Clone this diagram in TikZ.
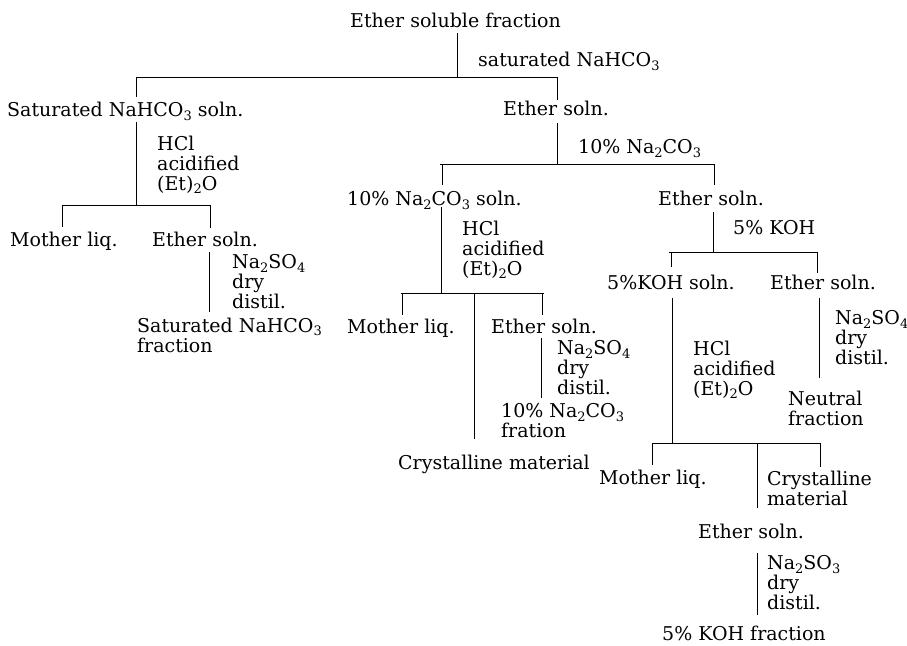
\documentclass[tikz,border=0pt]{standalone}
\usepackage{fontspec}
\setmainfont{DejaVu Serif}
\newcommand\chsub[1]{\raisebox{-3.5pt}{\fontsize{13}{13}\selectfont #1}}
\begin{document}
\begin{tikzpicture}[x=1pt,y=-1pt,
  font=\fontsize{19}{20}\selectfont,
  txt/.style={anchor=west,inner sep=0pt,text height=13.8pt,text depth=0pt},
  mtxt/.style={anchor=north west,inner sep=0pt,align=left},
  ln/.style={line width=0.9pt,black}]
\useasboundingbox (0,0) rectangle (907,645);

% ---- text ----
\node[txt] (top) at (350,21) {Ether soluble fraction};
\node[txt] (l0) at (478,60) {saturated NaHCO\chsub{3}};
\node[txt] (a) at (7,110) {Saturated NaHCO\chsub{3} soln.};
\node[txt] (b) at (503,109) {Ether soln.};
\node[mtxt] (la) at (157,135.6) {HCl\\acidified\\(Et)\chsub{2}O};
\node[txt] (a1) at (10,240) {Mother liq.};
\node[txt] (a2) at (152,240) {Ether soln.};
\node[mtxt] (la2) at (232,254.6) {Na\chsub{2}SO\chsub{4}\\dry\\distil.};
\node[mtxt] (ra2) at (137,317.6) {Saturated NaHCO\chsub{3}\\fraction};
\node[txt] (lb) at (578,147) {10\% Na\chsub{2}CO\chsub{3}};
\node[txt] (c) at (347,199) {10\% Na\chsub{2}CO\chsub{3} soln.};
\node[txt] (d) at (658,199) {Ether soln.};
\node[mtxt] (lc) at (462,220.6) {HCl\\acidified\\(Et)\chsub{2}O};
\node[txt] (c1) at (347,327) {Mother liq.};
\node[txt] (c2) at (491,327) {Ether soln.};
\node[mtxt] (lc2) at (557,340.6) {Na\chsub{2}SO\chsub{4}\\dry\\distil.};
\node[mtxt] (rc2) at (501,403.6) {10\% Na\chsub{2}CO\chsub{3}\\fration};
\node[txt] (c3) at (398,463) {Crystalline material};
\node[txt] (ld) at (733,228) {5\% KOH};
\node[txt] (e) at (607,283) {5\%KOH soln.};
\node[txt] (f) at (770,283) {Ether soln.};
\node[mtxt] (le) at (693,340.6) {HCl\\acidified\\(Et)\chsub{2}O};
\node[mtxt] (lf) at (835,310.6) {Na\chsub{2}SO\chsub{4}\\dry\\distil.};
\node[mtxt] (rf) at (788,390.6) {Neutral\\fraction};
\node[txt] (e1) at (599,478) {Mother liq.};
\node[mtxt] (e2) at (767,470.6) {Crystalline\\material};
\node[txt] (e3) at (698,532) {Ether soln.};
\node[mtxt] (le3) at (767,555.6) {Na\chsub{2}SO\chsub{3}\\dry\\distil.};
\node[txt] (re3) at (662,634) {5\% KOH fraction};

% ---- junction coordinates ----
\coordinate (t0) at (457,33);  \coordinate (j0) at (457,77);
\coordinate (h0l) at (136,77); \coordinate (h0r) at (557,77);
\coordinate (ea) at (136,97);  \coordinate (eb) at (557,100);
% left branch
\coordinate (sa) at (136,122); \coordinate (ja) at (136,205);
\coordinate (hal) at (62,205); \coordinate (har) at (211,205);
\coordinate (ea1) at (62,227); \coordinate (ea2t) at (210,205); \coordinate (ea2) at (210,228);
\coordinate (sa2) at (209,252); \coordinate (fa2) at (209,312);
% middle
\coordinate (sb) at (557,123); \coordinate (jb) at (557,164);
\coordinate (hbl) at (440,164); \coordinate (hbr) at (714,164);
\coordinate (ect) at (442,164); \coordinate (ec) at (442,185);
\coordinate (edt) at (714,164); \coordinate (ed) at (714,185);
\coordinate (sc) at (441,207); \coordinate (jc) at (441,293);
\coordinate (hcl) at (401,293); \coordinate (hcr) at (544,293);
\coordinate (ec1t) at (402,293); \coordinate (ec1) at (402,315);
\coordinate (ec3t) at (474,293); \coordinate (ec3) at (474,439);
\coordinate (ec2t) at (542,293); \coordinate (ec2) at (542,315);
\coordinate (sc2) at (541,338); \coordinate (fc2) at (541,398);
% right
\coordinate (sd) at (713,212); \coordinate (jd) at (713,252);
\coordinate (hdl) at (669,252); \coordinate (hdr) at (818,252);
\coordinate (eet) at (671,252); \coordinate (ee) at (671,267);
\coordinate (eft) at (817,252); \coordinate (ef) at (817,273);
\coordinate (sf) at (819,298); \coordinate (ff) at (819,378);
\coordinate (se) at (672,298); \coordinate (je) at (672,443);
\coordinate (hel) at (652,443); \coordinate (her) at (820,443);
\coordinate (ee1t) at (652,443); \coordinate (ee1) at (652,465);
\coordinate (ee3t) at (757,443); \coordinate (ee3) at (757,508);
\coordinate (ee2t) at (820,443); \coordinate (ee2) at (820,467);
\coordinate (se3) at (757,553); \coordinate (fe3) at (757,615);

% ---- connectors ----
\draw[ln] (t0) -- (j0);
\draw[ln] (h0l) -- (h0r);
\draw[ln] (h0l) -- (ea);
\draw[ln] (h0r) -- (eb);
\draw[ln] (sa) -- (ja);
\draw[ln] (hal) -- (har);
\draw[ln] (hal) -- (ea1);
\draw[ln] (ea2t) -- (ea2);
\draw[ln] (sa2) -- (fa2);
\draw[ln] (sb) -- (jb);
\draw[ln] (hbl) -- (hbr);
\draw[ln] (ect) -- (ec);
\draw[ln] (edt) -- (ed);
\draw[ln] (sc) -- (jc);
\draw[ln] (hcl) -- (hcr);
\draw[ln] (ec1t) -- (ec1);
\draw[ln] (ec3t) -- (ec3);
\draw[ln] (ec2t) -- (ec2);
\draw[ln] (sc2) -- (fc2);
\draw[ln] (sd) -- (jd);
\draw[ln] (hdl) -- (hdr);
\draw[ln] (eet) -- (ee);
\draw[ln] (eft) -- (ef);
\draw[ln] (sf) -- (ff);
\draw[ln] (se) -- (je);
\draw[ln] (hel) -- (her);
\draw[ln] (ee1t) -- (ee1);
\draw[ln] (ee3t) -- (ee3);
\draw[ln] (ee2t) -- (ee2);
\draw[ln] (se3) -- (fe3);
\end{tikzpicture}
\end{document}
